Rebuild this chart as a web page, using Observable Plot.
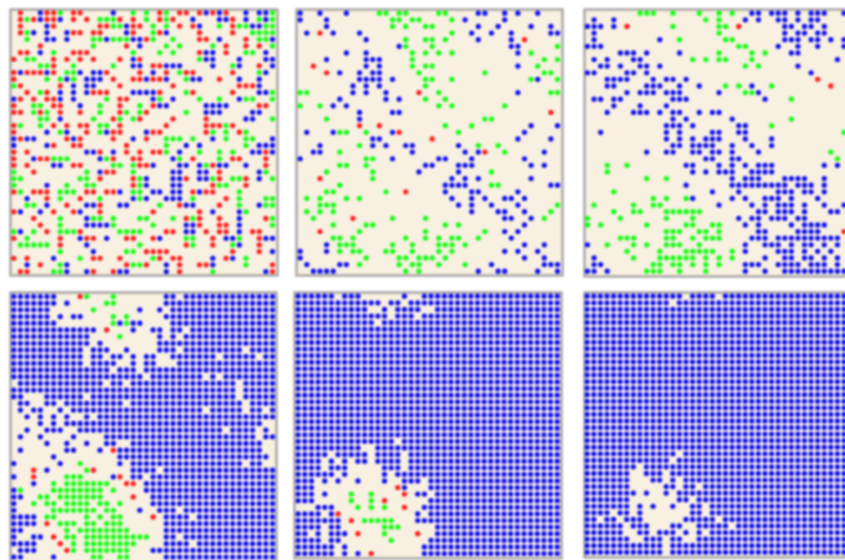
<!DOCTYPE html>
<html><head><meta charset="utf-8">
<script src="https://cdn.jsdelivr.net/npm/d3@7"></script>
<script src="https://cdn.jsdelivr.net/npm/@observablehq/plot@0.6"></script>
<style>html,body{margin:0;padding:0;background:#fff;overflow:hidden;width:845px;height:560px}
#c{position:relative;width:845px;height:560px;overflow:hidden}
#c svg{position:absolute;filter:blur(0.8px);background:none;max-width:none}</style>
</head><body><div id="c"></div>
<script>
// Each row lists occupied cells: column (or column range) + state r/g/b.
const panel1 = [
"1r 4b 5r 6r 7g 9r 10r 15b 18g 20g 22r 23g 25r 26r 28r 29b 30r 31b 32r 35b 37b 38b 39g",
"1r 2g 3r 4b 5r 6r 7b 9r 11r 13g 14g 15g 16r 18r 20g 22r 23g 24r 27b 31b 32b 33r 35b 37g 38b 39g",
"1r 5b 6r 13r 14r 15g 16g 17b 18r 19r 21g 23g 25r 27r 28b 31g 33r 34g 35g 36b 37b 38g 39g",
"1r 2g 3b 5b 8b 9r 10r 12r 13r 17b 18r 21g 22r 23b 28r 33r 36g 37g 38g 39g",
"2g 5b 6b 8b 12g 13g 14b 15g 16g 17g 18b 19b 20r 21g 24g 28r 29r 31b 35r 37g 38g 39b",
"4r 12g 17r 19b 23g 25g 30g 32r 35r 37r 39g",
"1r 2r 4b 6g 9r 10r 11r 18g 22g 24g 28r 29b 30b 32r 35g 36g 38b",
"0r 2g 3g 6r 8r 10r 12r 16r 18b 19r 28g 29b 30b 34b 38b 39b",
"4g 5g 6r 9g 15g 18b 19b 21r 22r 23b 24b 25b 30b 33g 34b 37r 39b",
"0r 1b 2r 3r 4r 5b 6r 8g 9g 10b 12b 13b 14r 19r 21b 23r 25g 26r 27r 33r 37g 38b",
"0r 5g 7g 8b 9g 11b 12b 13b 15r 18r 19r 20b 21r 22r 23b 26g 27b 28b 31r 34b 37b",
"0g 1r 7r 9b 11b 12b 16r 24r 34r 35r 36r 37b",
"2r 4g 5r 7b 9b 11b 12r 13r 14r 18b 19b 20b 21b 22r 26g 27r 33r 37b 38b 39g",
"0b 1r 3r 5r 6r 7b 9b 14g 16r 17r 21b 22g 24b 28g 31g 34b 35g 36g 39g",
"0r 3g 4g 6r 7r 10b 13g 16r 19g 21r 22b 23b 29b 30b 31b 32b 37r 38r",
"0r 1r 3g 4r 5g 7r 10r 13g 16r 17g 19g 20r 26g 29b 30b 31b 36b 37b",
"4g 5g 7b 12g 15r 16g 18g 19r 24r 29r 35b 36b 39g",
"0r 1g 4g 6r 8r 10r 11r 13g 14g 16r 23r 29r 30r 31r 32g 33r",
"0r 5b 7g 8b 11r 13g 14b 15r 16r 20b 21r 22r 29r 30g 32g 34r 35g",
"0b 1r 2b 3b 8r 9b 10r 15r 18b 20r 23g 24g 25g 27g 30b 32g 35g 36g 39b",
"0b 5b 6r 9r 10r 17r 23g 26b 28b 35g 37b 38b 39b",
"0r 2r 11b 12b 13r 15b 17r 19r 21r 22r 23g 25b 28g 31g 33g 36b 37b 38r 39b",
"0r 3b 4r 5r 6g 7g 8g 13b 14g 15r 18r 19r 24b 25g 27r 31g 33r 34r 38r",
"0r 2r 6b 7b 9r 10r 15g 16g 18g 19r 20r 21b 25b 26b 28b 29g 30r 31b 32b 35b 38r",
"0g 3r 11g 13b 14r 15r 18g 24b 25b 28b 29b 31r 37b 38g",
"0g 1g 10g 11g 13r 18r 19g 20b 24b 25b 26r 28b 29b 30g 31r 33g 34g 35r 37b 39g",
"0g 5b 8g 11g 12g 18r 19g 20b 24b 25b 30r 31g 32g 35r",
"0r 1g 3r 4r 5r 7g 8g 9g 11r 12r 14r 15r 16b 18g 19g 21b 22b 24b 25b 27r 28b 29r 30r 34g",
"2b 5r 7g 10r 13g 18b 19g 20b 23b 24b 25b 27g 32r 34g 38g 39g",
"2g 3g 5b 8r 11b 12b 13r 16b 17b 22g 25r 26b 27b 31r 34g 37b 38g 39g",
"0r 1b 4b 6r 9r 10b 13r 21r 28r 30b 34b 35g",
"3r 7g 11b 12g 13g 15g 19g 20g 24g 26r 27g 28r 31r 34b 38r 39g",
"4r 7g 11b 12b 13b 14b 15g 21g 26b 27b 28r 31r 32r 34b 39g",
"0g 1b 3g 5r 7g 8g 9g 10r 16g 17g 18g 19g 23r 24r 26b 27b 29r 31r 32r 34b 36r 37r",
"0r 2g 7r 10b 11r 12r 14b 17r 18r 21r 22b 26g 27g 30r 32b 33b 34g 37r 38b 39b",
"1g 2g 3g 4g 5g 7r 11b 19g 26r 27g 30r 33g 34b 37r",
"7g 12b 17g 18g 20r 21r 22r 23r 33r 37r 39b",
"0r 2r 6b 10g 12r 13r 16r 21g 22r 24r 25r 30b 32r 33b 35g",
"2b 4r 7g 8b 17r 18g 19g 20r 23b 25r 28r 29r 30b 35g 39r",
"1r 2r 6g 7g 8b 11b 12r 15r 16b 17b 23b 25r 30g 38b 39r"];
const panel2 = [
"0b 3b 7b 12g 13g 15g 16g 21g 22g 27b 28b 31b 33b 36b",
"0b 4b 14g 15g 17g 18g 23g 25b 31b",
"4b 14g 16g 19g 20g 27b 30b 35b 38b",
"1b 3r 5b 9b 23g 26b 29b 32b 38b 39b",
"10b 16g 19g 20g 22g 27b 32b 34r",
"15b 16g 20g 32b 33b 39g",
"7b 10b 17g 19g 21g 23g 33b 35g",
"4b 10b 11b 12b 17g 37g 39g",
"2r 10b 12b 17g 19g 20g 33b 36g",
"4r 6b 9b 11b 12b 18g 28g 37g 38g",
"9b 10b 11b 12b 14b 19g 20g 23g 35g 36b 39g",
"8b 10b 12b 19g",
"0g 1g 8b 10b 13b 18r 21g 33b 38g 39g",
"6b 13b 15b 19g 22g",
"0g 3g 5b 7b 21g 23g 31g",
"9b 14b 15b 38r",
"4g 9b 28g 29g",
"9r 12r 22g 26g 35b 39b",
"1b 5b 6g 7g 10g 14b 15r 24g 34b",
"11b 12b 20r 33b 38b",
"3b 9g 11b 13b 16b 17b 24b 27g 30g",
"2b 3b 6g 17b 25b 27b 28r 31g 37b",
"0b 10g 11g 14b 21b 22b 26b 34b",
"6g 7g 10g 19b 20b 24b 25b 26b 35b 37b",
"4g 11g 18b 24b 29g",
"3r 11g 23b 25b 27b 35b",
"6g 22b 23b 24b 25b 29g 30g 38b 39b",
"4g 5g 13g 16r 22b 26b 27b 33b",
"1g 3g 7g 9g 23b 26b 28b 31b 32b 34b",
"3g 4g 5g 24b 26b 29b 33b 39g",
"1g 3g 5g 26b 30b 31b 34b 38g",
"2g 8r 14g 19g 31b 32b 35b 37g",
"5g 10g 11g 22g 24g 34b",
"3r 9g 19g 28g 31b 33b",
"5g 6g 8g 16g 19g 21g 23g 24g 27g 32b",
"4b 6g 7g 8g 14g 17g 21g 22g 23g 25g 34b 37b",
"0b 4b 6g 8g 9g 13g 14g 17g 21g 23g 31b 33b 36b",
"0b 10g 15g 16g 18g 19g 20g 22g 34b 37b",
"1b 6b 7b 9g 15g 17g 18g 21g 25g 29b 37b 38b 39b",
"2b 3b 4b 5b 16g 18g 27b 30b 31b 36b 39b"];
const panel3 = [
"8g 9g 10g 13g 17g 20g 22g 25b 26b 28b 29b 30b 32b 34b 35b 36b 39b",
"1b 4b 18g 20g 24b 26b 29b 30b 32b 34b 35b",
"0b 1b 2b 4b 6r 13g 20g 21g 23r 30b 31b 33b 34b 36b",
"1b 20g 30b 32b 33b 35b 36b",
"1b 11b 14g 21g 22g 30b 31b 32b 34b 35b 37b 39b",
"0b 1b 2b 23g 24g 29b 32b 35b 39b",
"5b 6b 7b 9b 14b 20g 25g 27g 31b 32b",
"1b 3b 7b 8b 16g 18g 20g 21g 25g 38b",
"2b 3b 5b 8b 9b 11b 24g 26g 32b",
"0b 1b 6b 7b 9b 34b",
"3b 4b 5b 6b 10b 12b 13b 15b 35r",
"3b 4b 9b 10b 11b 14b 17b 21g 23g 25b 28g 37r",
"6b 8b 9b 10b 12b 13b 14b 20b 24g 25g 26b",
"1b 2b 4b 5b 13b 14b 15b 27b 31g",
"4b 8b 12b",
"3b 7b 8b 9b 11b 13b 14b 17b 19b 20b",
"13b 15b 22b 31g",
"12b 13b 14b 16b 23b 24b 28g",
"2b 12b 14b 19b 20b 23b 24b 39g",
"12b 14b 16b 18b 19b 20b 24b 28b",
"13b 14b 16b 17b 18b 19b 22b 25b 28b",
"9b 12b 13b 16b 17b 19b 20b 22b 26b 37g",
"18b 19b 22b 23b 38g",
"3g 6g 15b 16b 20b 22b 24b 26b 27b 28b 36b 38b",
"3g 16b 18b 20b 21b 22b 25b 26b 27b 28b",
"9g 12g 22b 24b 25b 26b 30b 31b 32b 33b 36b",
"15b 22b 23b 24b 25b 26b 27b 28b 29b 30b 32b 33b 34b 36b",
"4g 19b 23b 29b 30b 31b 33b 34b 36b",
"10g 12g 15g 16b 22b 24b 27b 28b 29b 31b 35b",
"1g 7g 10g 11g 20b 25b 27b 29b 30b 31b 33b 36b 39b",
"4g 7g 8g 12g 13g 14g 15g 16g 17g 26b 27b 29b 30b 31b 33b 37b 38b",
"0g 5g 12g 16g 23b 25b 26b 28b 29b 30b 32b 33b",
"0g 2g 9g 15g 16g 19g 20g 24b 26b 31b 33b 34b 35b 36b",
"12g 13g 14g 17g 18g 20g 26b 27b 32b 33b 34b 35b 39r",
"5g 6g 7g 12g 13g 16g 18g 19g 20g 25b 26b 27b 29b 30b 31b 32b 33b 34b 35b 36b 37b 38b",
"0b 3g 7g 9g 12g 13g 14g 17g 24b 27b 28b 29b 31b 33b 34b 36b 38b",
"6g 11g 15g 16g 17g 18g 19g 22g 24b 29b 30b 31b 33b 35b 37b",
"1b 7g 11g 12g 13g 14g 15g 16g 18g 20g 22g 27b 30b 31b 33b 34b 36b 38b",
"1b 2b 10g 11g 13g 14g 16g 18g 20g 24b 25b 26b 29b 30b 31b 32b 34b 35b 36b 38b",
"0b 1b 3b 9g 10g 11g 14g 18g 24b 27b 30b 31b 32b 33b 34b 35b 36b 37b 38b 39b"];
const panel4 = [
"0-6b 10r 11g 15g 23-24b 26-39b",
"0-6b 8b 14g 15g 23-39b",
"0-5b 12g 19b 22b 24-39b",
"0-5b 7b 9-10b 15g 17g 23-39b",
"0-6b 15g 16b 17g 18-19b 24-39b",
"0-12b 14r 18b 21-22b 24-25b 27-39b",
"0-11b 16g 22b 24b 26-39b",
"0-11b 13b 22-39b",
"0-10b 12-14b 17b 22-24b 26-34b 36-39b",
"0-10b 12-13b 15-16b 18b 20-21b 24-30b 32-36b 38-39b",
"0-10b 12-15b 18b 20-21b 25-39b",
"0-14b 16-18b 20-39b",
"0-19b 21-28b 30b 32-39b",
"1-13b 15-16b 18-33b 35-39b",
"0-33b 35-39b",
"0-1b 5-10b 12-33b 35-39b",
"1-2b 5-6b 8-16b 18-34b 36-39b",
"1b 3-4b 7b 9-28b 30-34b 36-37b 39b",
"2b 4b 6b 8b 11b 13-39b",
"4b 6b 8-37b",
"2b 5-7b 10-31b 33-36b 38b",
"1b 4b 9b 14-36b 38-39b",
"5b 8b 11b 14-15b 18-37b",
"1b 8-9b 13b 15r 16-37b",
"6b 16-38b",
"0b 7b 10g 16b 18-34b 36-37b",
"3r 5b 11g 12r 18-21b 23-39b",
"0b 3r 8-10g 15b 16r 18-19b 21-39b",
"3b 6g 8-14g 17-18r 20-39b",
"0b 1g 6-13g 15g 20-39b",
"0-1b 4-5g 7-13g 18r 21-39b",
"0b 3g 5-6g 8-11g 13-14g 16g 21-39b",
"0b 6-12g 14-15g 19b 22-24b 26-39b",
"0-3b 5-6g 11g 13g 15-16g 21r 23-26b 28-39b",
"0-3b 5r 7-9g 11-12g 14-16g 23-39b",
"0-1b 8g 10-17g 23-39b",
"0b 3-4b 6r 8-9g 11-20g 23-24b 26-39b",
"0-3b 7r 9g 11-18g 23-26b 28-39b",
"1-3b 8r 9g 11-17g 21-39b",
"0-1b 6b 12-13g 16-17g 23-39b"];
const fullRow = "0-39b";
const panel5 = [
"0-5b 7-9b 16b 19-39b",
"0-10b 11-12b 14-15b 17-39b",
"0-10b 13b 15-18b 21-39b",
"0-12b 13b 15-17b 19-39b",
"0-11b 13-39b",
fullRow,fullRow,fullRow,fullRow,fullRow,fullRow,fullRow,fullRow,fullRow,fullRow,fullRow,fullRow,
fullRow,fullRow,fullRow,fullRow,fullRow,
"0-14b 16-39b",
"0-9b 12-39b",
"0-4b 6-10b 12-15b 17-39b",
"0-3b 5b 7b 9-10b 12-15b 17-39b",
"0-3b 5-7b 13-15b 17-39b",
"0-5b 7b 13b 15-39b",
"0-2b 4b 6b 9b 13b 16-18b 20-39b",
"0-2b 15r 16b 20-39b",
"0-2b 4b 8g 11g 16r 18-19b 21-39b",
"0-2b 8g 11g 13r 20-39b",
"3-5b 9g 11g 13g 16r 19-39b",
"0-3b 5b 6r 18b 20-39b",
"0-6b 8r 10-14g 18-39b",
"0-3b 5-6b 13-15g 21-39b",
"0-1b 3b 5b 6-7b 9r 13g 18r 21-39b",
"0-3b 5-6b 14g 20-39b",
"0-5b 7b 19-39b",
"0-5b 7b 9b 11r 19-39b"];
const panel6 = [
"0-14b 16-19b 21-39b",
"0-12b 14-39b",
fullRow,fullRow,fullRow,fullRow,fullRow,fullRow,fullRow,fullRow,fullRow,fullRow,fullRow,fullRow,fullRow,fullRow,
fullRow,fullRow,fullRow,fullRow,fullRow,fullRow,fullRow,fullRow,
"0-13b 15-39b",
"0-12b 14-39b",
"0-7b 9-39b",
"0-6b 9-11b 13-39b",
"0-6b 10-11b 13b 15-39b",
"0-6b 12-13b 15-16b 18-39b",
"0-7b 9b 12b 14-39b",
"0-6b 14-15b 17-39b",
"0-6b 8b 10b 13b 16-17b 19-39b",
"0-3b 5-6b 8b 16-17b 19-39b",
"0-1b 3-4b 6-8b 15-19b 21-39b",
"0-5b 7-9b 13-14b 17-21b 23-39b",
"0-5b 8-9b 11-13b 15b 17b 19-39b",
"0-6b 9-11b 13-14b 17-39b",
"0-11b 13-39b",
"0-11b 13-39b"];
const panels = [panel1,panel2,panel3,panel4,panel5,panel6];
const states = ["r","g","b"];
const stateColors = ["#ff1c1c","#12ff12","#1010f0"];
// Page layout of each panel: frame edges and first/last dot centres, in pixels.
const layout = [
 {L:10,R:277,T:9,B:275,x0:13.3,x1:272,y0:12.3,y1:271},
 {L:296,R:562,T:9,B:275,x0:299.7,x1:557,y0:12.7,y1:270.7},
 {L:584,R:850,T:9,B:276,x0:587,x1:843.5,y0:12.7,y1:270.7},
 {L:10,R:276,T:292,B:566,x0:13.3,x1:272,y0:296,y1:556.5},
 {L:294,R:561,T:292,B:558,x0:297.7,x1:556.7,y0:295.7,y1:553},
 {L:584,R:850,T:292,B:557,x0:586.7,x1:843.5,y0:295.7,y1:551.7}];
function parseRows(rows){
  const out=[];
  rows.forEach((line,row)=>line.split(" ").forEach(tok=>{
    const m=tok.match(/^(\d+)(?:-(\d+))?([rgb])$/);
    const a=+m[1], b=m[2]==null?a:+m[2];
    for(let col=a;col<=b;col++) out.push({col,row,s:m[3]});
  }));
  return out;
}
const root=document.getElementById("c");
panels.forEach((rows,i)=>{
  const p=layout[i], pad=3;
  const w=p.R-p.L+2*pad, h=p.B-p.T+2*pad;
  const sx=(p.x1-p.x0)/39, sy=(p.y1-p.y0)/39;
  const chart=Plot.plot({
    width:w,height:h,margin:pad,
    style:{background:"transparent"},
    x:{axis:null,domain:[(p.L-p.x0)/sx,39+(p.R-p.x1)/sx]},
    y:{axis:null,domain:[(p.T-p.y0)/sy,39+(p.B-p.y1)/sy],range:[pad,h-pad]},
    color:{domain:states,range:stateColors},
    marks:[
      Plot.frame({fill:"#f8f0e1",stroke:"#a8a4a4",strokeWidth:2.4}),
      Plot.dot(parseRows(rows),{x:"col",y:"row",fill:"s",r:2.6})
    ]
  });
  chart.style.left=(p.L-pad)+"px";
  chart.style.top=(p.T-pad)+"px";
  root.appendChild(chart);
});
</script></body></html>
